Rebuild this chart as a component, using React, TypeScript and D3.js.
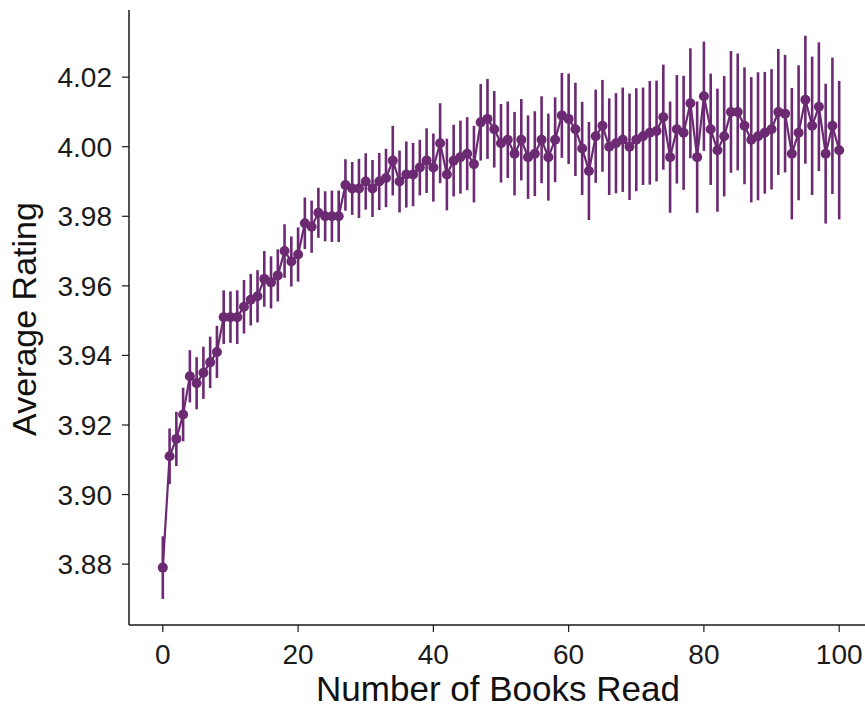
import React from "react";
import * as d3 from "d3";

const books: number[] = d3.range(0, 101);
const meanRating: number[] = [
  3.879, 3.911, 3.916, 3.923, 3.934, 3.932, 3.935, 3.938, 3.941, 3.951,
  3.951, 3.951, 3.954, 3.956, 3.957, 3.962, 3.961, 3.963, 3.970, 3.967,
  3.969, 3.978, 3.977, 3.981, 3.980, 3.980, 3.980, 3.989, 3.988, 3.988,
  3.990, 3.988, 3.990, 3.991, 3.996, 3.990, 3.992, 3.992, 3.994, 3.996,
  3.994, 4.001, 3.992, 3.996, 3.997, 3.998, 3.995, 4.007, 4.008, 4.005,
  4.001, 4.002, 3.998, 4.002, 3.997, 3.998, 4.002, 3.997, 4.002, 4.009,
  4.008, 4.005, 3.9995, 3.993, 4.003, 4.006, 4.000, 4.001, 4.002, 4.000,
  4.002, 4.003, 4.004, 4.0045, 4.0085, 3.997, 4.005, 4.004, 4.0125, 3.997,
  4.0145, 4.005, 3.999, 4.003, 4.010, 4.010, 4.006, 4.002, 4.003, 4.004,
  4.005, 4.010, 4.0095, 3.998, 4.004, 4.0135, 4.006, 4.0115, 3.998, 4.006,
  3.999,
];
const errRating: number[] = [
  0.009, 0.008, 0.0078, 0.0077, 0.0075, 0.0075, 0.0075, 0.0074, 0.0075, 0.0077,
  0.0074, 0.0077, 0.0077, 0.0074, 0.0075, 0.008, 0.0075, 0.0075, 0.0077, 0.0072,
  0.0078, 0.0074, 0.0075, 0.0072, 0.0072, 0.0074, 0.0074, 0.0074, 0.0076, 0.0085,
  0.0081, 0.0082, 0.0082, 0.0084, 0.01, 0.0089, 0.0095, 0.0091, 0.008, 0.0093,
  0.0098, 0.0115, 0.0103, 0.0103, 0.0105, 0.0105, 0.011, 0.011, 0.0115, 0.011,
  0.0113, 0.011, 0.012, 0.0117, 0.012, 0.0122, 0.0125, 0.0125, 0.0122, 0.0122,
  0.013, 0.0134, 0.0134, 0.0141, 0.0134, 0.0132, 0.0139, 0.0144, 0.015, 0.0153,
  0.0148, 0.014, 0.0149, 0.0145, 0.0151, 0.016, 0.0156, 0.0164, 0.0158, 0.016,
  0.0157, 0.016, 0.0177, 0.0173, 0.0175, 0.0168, 0.0168, 0.018, 0.0184, 0.0175,
  0.0173, 0.0181, 0.0169, 0.0189, 0.0194, 0.0184, 0.0199, 0.0185, 0.0201, 0.0196,
  0.0199,
];
const xTicks: number[] = [0, 20, 40, 60, 80, 100];
const yTicks: number[] = [3.88, 3.9, 3.92, 3.94, 3.96, 3.98, 4.0, 4.02];

const W = 865;
const H = 709;
const COLOR = "#6b2a72";
const FONT = "'Liberation Sans', Arial, sans-serif";

export default function App() {
  const x = d3.scaleLinear().domain([-5, 105]).range([129, 873]);
  const y = d3.scaleLinear().domain([3.8625, 4.0393]).range([625, 10]);
  const data = books.map((b, i) => ({ b, m: meanRating[i], e: errRating[i] }));
  const line = d3
    .line<{ b: number; m: number; e: number }>()
    .x((d) => x(d.b))
    .y((d) => y(d.m));
  const left = x.range()[0];
  const bottom = y.range()[0];
  const top = y.range()[1];
  return (
    <svg
      width={W}
      height={H}
      style={{ position: "absolute", left: 0, top: 0, background: "#fff" }}
    >
      <g stroke={COLOR} strokeWidth={2.6}>
        {data.map((d) => (
          <line
            key={"e" + d.b}
            x1={x(d.b)}
            x2={x(d.b)}
            y1={y(d.m - d.e)}
            y2={y(d.m + d.e)}
          />
        ))}
      </g>
      <path d={line(data) || ""} fill="none" stroke={COLOR} strokeWidth={2.2} />
      <g fill={COLOR}>
        {data.map((d) => (
          <circle key={"c" + d.b} cx={x(d.b)} cy={y(d.m)} r={5} />
        ))}
      </g>
      <line x1={left} x2={left} y1={top} y2={bottom} stroke="#1a1a1a" strokeWidth={1.5} />
      <line x1={left} x2={W} y1={bottom} y2={bottom} stroke="#1a1a1a" strokeWidth={1.5} />
      {yTicks.map((t) => (
        <g key={"y" + t}>
          <line x1={left - 7} x2={left} y1={y(t)} y2={y(t)} stroke="#1a1a1a" strokeWidth={1.2} />
          <text
            x={left - 17}
            y={y(t)}
            dy="0.36em"
            textAnchor="end"
            fontFamily={FONT}
            fontSize={28}
            fill="#1a1a1a"
          >
            {d3.format(".2f")(t)}
          </text>
        </g>
      ))}
      {xTicks.map((t) => (
        <g key={"x" + t}>
          <line x1={x(t)} x2={x(t)} y1={bottom} y2={bottom + 7} stroke="#1a1a1a" strokeWidth={1.2} />
          <text
            x={x(t)}
            y={664}
            textAnchor="middle"
            fontFamily={FONT}
            fontSize={28}
            fill="#1a1a1a"
          >
            {t}
          </text>
        </g>
      ))}
      <text
        x={498}
        y={701}
        textAnchor="middle"
        fontFamily={FONT}
        fontSize={35}
        fill="#111"
      >
        Number of Books Read
      </text>
      <text
        transform={`translate(36, 319) rotate(-90)`}
        textAnchor="middle"
        fontFamily={FONT}
        fontSize={34}
        fill="#111"
      >
        Average Rating
      </text>
    </svg>
  );
}
